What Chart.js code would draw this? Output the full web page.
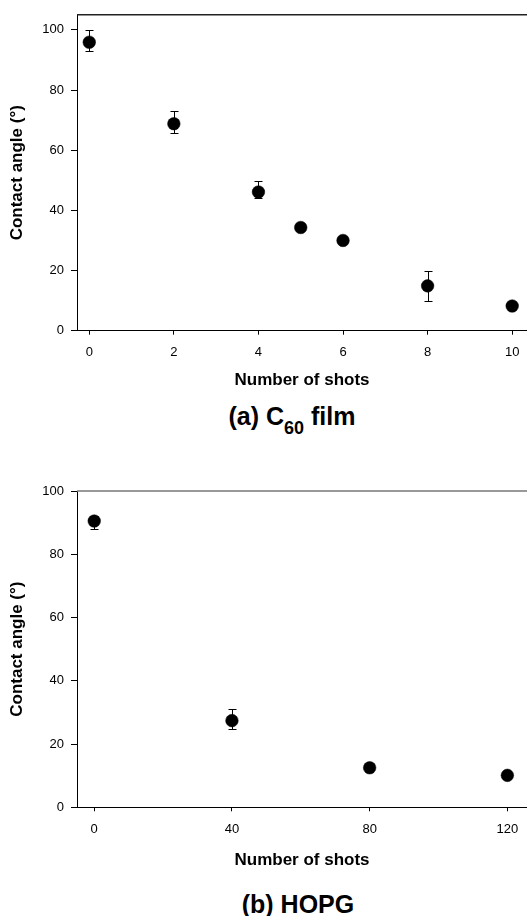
<!DOCTYPE html>
<html>
<head>
<meta charset="utf-8">
<script src="https://cdn.jsdelivr.net/npm/chart.js@4"></script>
<style>
    body { margin: 0; background: #fff; }
    .wrap { position: relative; width: 527px; height: 916px; overflow: hidden; }
    canvas { position: absolute; left: 0; }
    .caption {
        position: absolute;
        font-family: 'Liberation Sans', Arial, sans-serif;
        font-weight: bold;
        font-size: 25px;
        line-height: 30px;
        color: #000;
        white-space: nowrap;
        transform: translateX(-50%);
    }
    .caption sub { font-size: 18px; line-height: 0; vertical-align: -9px; }
</style>
</head>
<body>
<div class="wrap">
    <canvas id="chart-a" width="527" height="400" style="top:0"></canvas>
    <canvas id="chart-b" width="527" height="401" style="top:470px"></canvas>
    <div class="caption" style="left:292px; top:401px">(a) C<sub>60</sub> film</div>
    <div class="caption" style="left:298px; top:889px">(b) HOPG</div>
</div>
<script>
// (a) C60 film
const shotsA = [0, 2, 4, 5, 6, 8, 10];
const angleA = [95.9, 68.8, 46.1, 34.3, 30.0, 14.9, 8.2];
const upperA = [100.1, 72.9, 49.7, null, null, 19.9, null];
const lowerA = [93.1, 65.6, 44.0, null, null, 9.85, null];
const xTicksA = [0, 2, 4, 6, 8, 10];
const yTicksA = [0, 20, 40, 60, 80, 100];

// (b) HOPG
const shotsB = [0, 40, 80, 120];
const angleB = [90.5, 27.4, 12.5, 10.1];
const upperB = [92.0, 31.0, null, null];
const lowerB = [88.1, 24.7, null, null];
const xTicksB = [0, 40, 80, 120];
const yTicksB = [0, 20, 40, 60, 80, 100];

const FONT = "'Liberation Sans', Arial, sans-serif";

// error bars drawn behind the markers
function errorBars(hi, lo) {
    return {
        id: 'errorBars',
        beforeDatasetsDraw(chart) {
            const { ctx, scales: { x, y } } = chart;
            const pts = chart.data.datasets[0].data;
            ctx.save();
            ctx.strokeStyle = '#000';
            ctx.lineWidth = 1;
            pts.forEach((pt, i) => {
                if (hi[i] == null) return;
                const px = Math.round(x.getPixelForValue(pt.x)) + 0.5;
                const top = Math.round(y.getPixelForValue(hi[i])) + 0.5;
                const bot = Math.round(y.getPixelForValue(lo[i])) + 0.5;
                ctx.beginPath();
                ctx.moveTo(px, top); ctx.lineTo(px, bot);
                ctx.moveTo(px - 4, top); ctx.lineTo(px + 4, top);
                ctx.moveTo(px - 4, bot); ctx.lineTo(px + 4, bot);
                ctx.stroke();
            });
            ctx.restore();
        }
    };
}

// top frame line
function topFrame(color) {
    return {
        id: 'topFrame',
        afterDraw(chart) {
            const { ctx, chartArea } = chart;
            ctx.save();
            ctx.strokeStyle = color;
            ctx.lineWidth = 1.5;
            ctx.beginPath();
            ctx.moveTo(chartArea.left, chartArea.top);
            ctx.lineTo(chartArea.right, chartArea.top);
            ctx.stroke();
            ctx.restore();
        }
    };
}

function makeChart(id, cfg) {
    const ctx = document.getElementById(id).getContext('2d');
    return new Chart(ctx, {
        type: 'scatter',
        data: {
            datasets: [{
                data: cfg.xs.map((v, i) => ({ x: v, y: cfg.ys[i] })),
                backgroundColor: '#000',
                borderColor: '#000',
                borderWidth: 0.5,
                pointRadius: 6.3,
                pointHoverRadius: 6.3
            }]
        },
        options: {
            responsive: false,
            animation: false,
            devicePixelRatio: 1,
            layout: { autoPadding: false, padding: { top: cfg.padTop, left: 0, right: 0, bottom: 0 } },
            plugins: { legend: { display: false }, tooltip: { enabled: false } },
            scales: {
                x: {
                    type: 'linear',
                    min: cfg.xMin,
                    max: cfg.xMax,
                    afterBuildTicks: s => { s.ticks = cfg.xTicks.map(v => ({ value: v })); },
                    afterFit: s => {
                        s.height = cfg.axisH;
                        s.paddingLeft = 0;
                        s.paddingRight = 0;
                    },
                    grid: { display: true, drawOnChartArea: false, drawTicks: true, tickLength: 4, color: '#000' },
                    border: { display: true, color: '#000', width: 1 },
                    ticks: { color: '#000', padding: 10, maxRotation: 0, font: { family: FONT, size: 13 } },
                    title: {
                        display: true,
                        text: 'Number of shots',
                        color: '#000',
                        font: { family: FONT, size: 17, weight: 'bold' },
                        padding: { top: 0, bottom: cfg.titlePad }
                    }
                },
                y: {
                    type: 'linear',
                    min: 0,
                    max: cfg.yMax,
                    afterBuildTicks: s => { s.ticks = cfg.yTicks.map(v => ({ value: v })); },
                    afterFit: s => { s.width = 77; },
                    grid: { display: true, drawOnChartArea: false, drawTicks: true, tickLength: 6, color: '#000' },
                    border: { display: true, color: '#000', width: 1 },
                    ticks: { color: '#000', padding: 7, font: { family: FONT, size: 13 } },
                    title: {
                        display: true,
                        text: 'Contact angle (°)',
                        color: '#000',
                        font: { family: FONT, size: 17, weight: 'bold' },
                        padding: { top: 7, bottom: 0 }
                    }
                }
            }
        },
        plugins: [errorBars(cfg.hi, cfg.lo), topFrame(cfg.frameColor)]
    });
}

makeChart('chart-a', {
    xs: shotsA, ys: angleA, hi: upperA, lo: lowerA,
    xTicks: xTicksA, yTicks: yTicksA,
    xMin: -0.29, xMax: 10.35, yMax: 105,
    padTop: 14, axisH: 69.3, titlePad: 9, frameColor: '#222'
});

makeChart('chart-b', {
    xs: shotsB, ys: angleB, hi: upperB, lo: lowerB,
    xTicks: xTicksB, yTicks: yTicksB,
    xMin: -5, xMax: 125.7, yMax: 100,
    padTop: 21, axisH: 63.7, titlePad: 0, frameColor: '#777'
});
</script>
</body>
</html>
